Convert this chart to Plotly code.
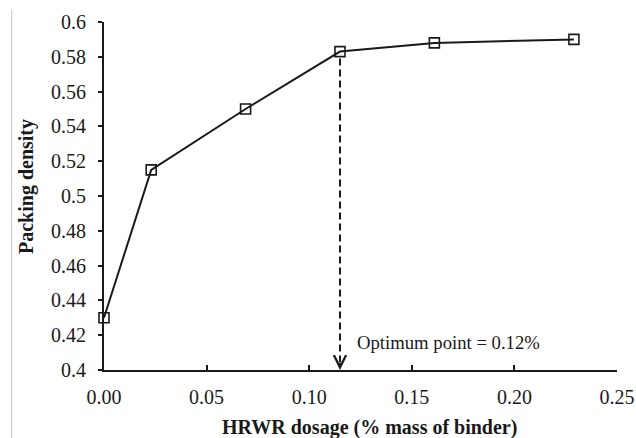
import plotly.graph_objects as go

# HRWR dosage (% mass of binder) and measured packing density
dosage = [0.0, 0.023, 0.069, 0.115, 0.161, 0.229]
packing_density = [0.43, 0.515, 0.55, 0.583, 0.588, 0.590]

# optimum dosage marked by the dashed drop line
opt_x = 0.115
opt_y = 0.583

x_ticks = [0.0, 0.05, 0.10, 0.15, 0.20, 0.25]
x_tick_text = ["0.00", "0.05", "0.10", "0.15", "0.20", "0.25"]
y_ticks = [0.4, 0.42, 0.44, 0.46, 0.48, 0.5, 0.52, 0.54, 0.56, 0.58, 0.6]
y_tick_text = ["0.4", "0.42", "0.44", "0.46", "0.48", "0.5", "0.52", "0.54", "0.56", "0.58", "0.6"]

FONT = "Liberation Serif"
INK = "#1a1a1a"

fig = go.Figure()
fig.add_trace(go.Scatter(
    x=dosage, y=packing_density, mode="lines+markers",
    line=dict(color=INK, width=2),
    marker=dict(symbol="square-open", size=10, color=INK, line=dict(width=1.6, color=INK)),
    cliponaxis=False, showlegend=False,
))

# dashed drop line from the optimum point to the x axis
fig.add_shape(type="line", xref="x", yref="y", x0=opt_x, x1=opt_x, y0=opt_y - 0.004, y1=0.401,
              line=dict(color=INK, width=2, dash="7px,4px"))
# open arrowhead at the foot of the drop line
fig.add_annotation(x=opt_x, y=0.4, xref="x", yref="y", ax=0, ay=-9,
                   showarrow=True, arrowhead=5, arrowsize=1.5, arrowwidth=1.6, arrowcolor=INK,
                   text=" ", font=dict(size=1))
fig.add_annotation(x=opt_x, y=0.416, xref="x", yref="y", xanchor="left", yanchor="middle", xshift=15,
                   showarrow=False, text=f"Optimum point = {opt_x:.2f}%",
                   font=dict(family=FONT, size=18.7, color=INK))

# axis titles
fig.add_annotation(x=0.5166, y=-0.164, xref="paper", yref="paper", xanchor="center", yanchor="middle",
                   showarrow=False, text="<b>HRWR dosage (% mass of binder)</b>",
                   font=dict(family=FONT, size=20, color=INK))
fig.add_annotation(x=-0.150, y=0.526, xref="paper", yref="paper", xanchor="center", yanchor="middle",
                   showarrow=False, textangle=-90, text="<b>Packing density</b>",
                   font=dict(family=FONT, size=20, color=INK))

# thin frame line at the left edge
fig.add_shape(type="line", xref="paper", yref="paper", x0=-0.18, x1=-0.18, y0=1.034, y1=-0.2,
              line=dict(color="#c8c8c8", width=1))

fig.update_layout(
    width=636, height=438,
    margin=dict(l=104, r=19, t=22, b=68, autoexpand=False),
    paper_bgcolor="white", plot_bgcolor="white",
    font=dict(family=FONT, size=20, color=INK),
    xaxis=dict(
        range=[0, 0.25], tickvals=x_ticks, ticktext=x_tick_text, automargin=False,
        showline=True, linecolor=INK, linewidth=2, showgrid=False, zeroline=False,
        ticks="inside", ticklen=5, tickwidth=1.5, tickcolor=INK, ticklabelstandoff=8,
    ),
    yaxis=dict(
        range=[0.4, 0.6], tickvals=y_ticks, ticktext=y_tick_text, automargin=False,
        showline=True, linecolor=INK, linewidth=2, showgrid=False, zeroline=False,
        ticks="outside", ticklen=4, tickwidth=1.5, tickcolor=INK, ticklabelstandoff=8,
    ),
)

fig.write_html("out.html")
